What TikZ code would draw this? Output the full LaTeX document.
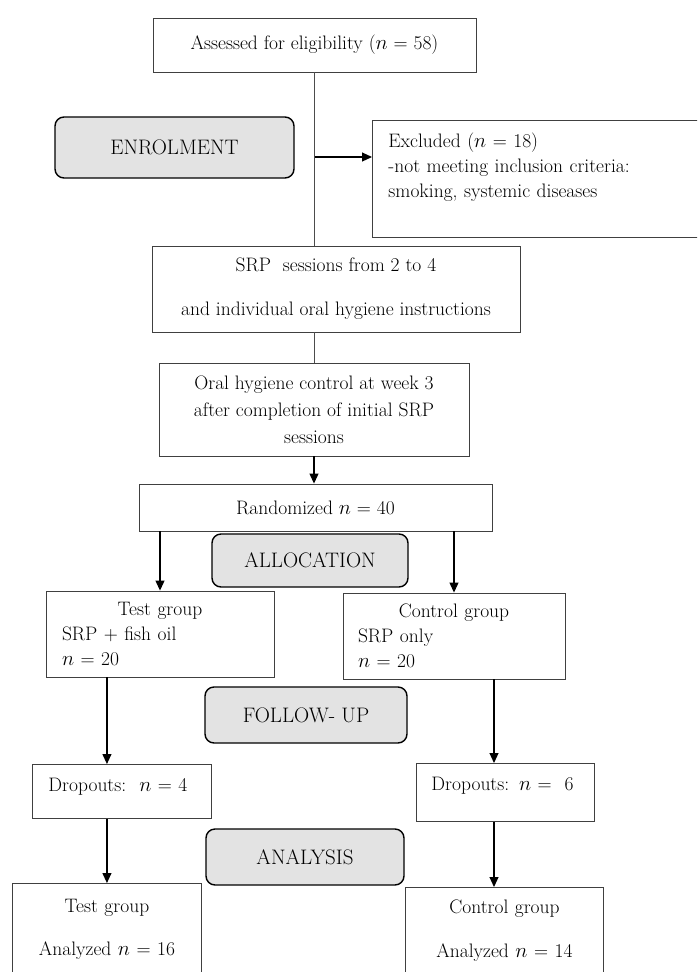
\documentclass[tikz,border=0pt]{standalone}
\usetikzlibrary{arrows.meta}

\tikzset{
  box/.style={draw=black!75,line width=.9pt,inner sep=0pt,align=center},
  topbox/.style={draw=black!75,line width=.9pt,inner ysep=0pt,anchor=north west},
  stage/.style={draw=black,line width=1.4pt,rounded corners=9pt,fill=black!11,inner sep=0pt,font=\fontsize{21}{25}\selectfont},
  arr/.style={-{Triangle[length=10pt,width=9pt]},line width=1.1pt},
  lnk/.style={draw=black!70,line width=.9pt}
}

\begin{document}
\begin{tikzpicture}[x=1pt,y=-1pt,font=\fontsize{19.5}{25}\selectfont]
    \useasboundingbox (0,0) rectangle (697,972);
    \clip (0,0) rectangle (697,972);

    %% enrolment
    \node (assess) at (314.5,45) [box,minimum width=323,minimum height=54] {Assessed for eligibility ($n$ = 58)};
    \node (enrol) at (174.5,147.5) [stage,minimum width=239,minimum height=61] {ENROLMENT};
    \node (excl) at (372,120) [topbox,inner xsep=16pt,text width=308pt,text height=27pt,text depth=90pt,align=left]
      {Excluded ($n$ = 18)\\-not meeting inclusion criteria:\\smoking, systemic diseases};
    \node (srp) at (336,289) [box,minimum width=368,minimum height=86]
      {SRP~ sessions from 2 to 4\\[19pt]and individual oral hygiene instructions};
    \node (oral) at (314,409.5) [box,minimum width=310,minimum height=93,font=\fontsize{19.5}{27}\selectfont]
      {Oral hygiene control at week 3\\after completion of initial SRP\\sessions};
    \node (rand) at (315.5,507.5) [box,minimum width=353,minimum height=47] {Randomized $n$ = 40};

    %% allocation
    \node (alloc) at (310,560.5) [stage,minimum width=196,minimum height=53] {ALLOCATION};
    \node (testA) at (160,634) [box,minimum width=228,minimum height=86,text width=196pt,align=left]
      {\makebox[196pt]{Test group}\\SRP + fish oil\\$n$ = 20};
    \node (ctrlA) at (454,636) [box,minimum width=222,minimum height=86,text width=192pt,align=left]
      {\makebox[192pt]{Control group}\\SRP only\\$n$ = 20};

    %% follow-up
    \node (follow) at (306,715) [stage,minimum width=202,minimum height=56] {FOLLOW- UP};
    \node (dropA) at (32,764) [topbox,inner xsep=16pt,text width=147pt,text height=27pt,text depth=27pt,align=left]
      {Dropouts:~~$n$ = 4};
    \node (dropB) at (416,763) [topbox,inner xsep=15pt,text width=148pt,text height=27pt,text depth=31pt,align=left]
      {Dropouts: $n$ =~~6};

    %% analysis
    \node (anal) at (305,857) [stage,minimum width=198,minimum height=56] {ANALYSIS};
    \node (testB) at (12,883) [topbox,inner xsep=0pt,text width=189pt,text height=29pt,text depth=100pt,align=center]
      {Test group\\[18pt]Analyzed $n$ = 16};
    \node (ctrlB) at (405,887) [topbox,inner xsep=0pt,text width=198pt,text height=26pt,text depth=100pt,align=center]
      {Control group\\[19pt]Analyzed $n$ = 14};

    %% connectors
    \coordinate (split) at (314.5,157);
    \coordinate (rgt) at (494,0);
    \draw[lnk] (assess.south) -- (assess.south |- srp.north);
    \draw[arr] (split) -- (split -| excl.west);
    \draw[lnk] (srp.south -| oral.north) -- (oral.north);
    \draw[arr] (oral.south) -- (oral.south |- rand.north);
    \draw[arr] (rand.south -| testA.north) -- (testA.north);
    \draw[arr] (rand.south -| ctrlA.north) -- (ctrlA.north);
    \draw[arr] (testA.south -| testB.north) -- (testB.north |- dropA.north);
    \draw[arr] (ctrlA.south -| rgt) -- (dropB.north -| rgt);
    \draw[arr] (dropA.south -| testB.north) -- (testB.north);
    \draw[arr] (dropB.south -| rgt) -- (ctrlB.north -| rgt);
\end{tikzpicture}
\end{document}
